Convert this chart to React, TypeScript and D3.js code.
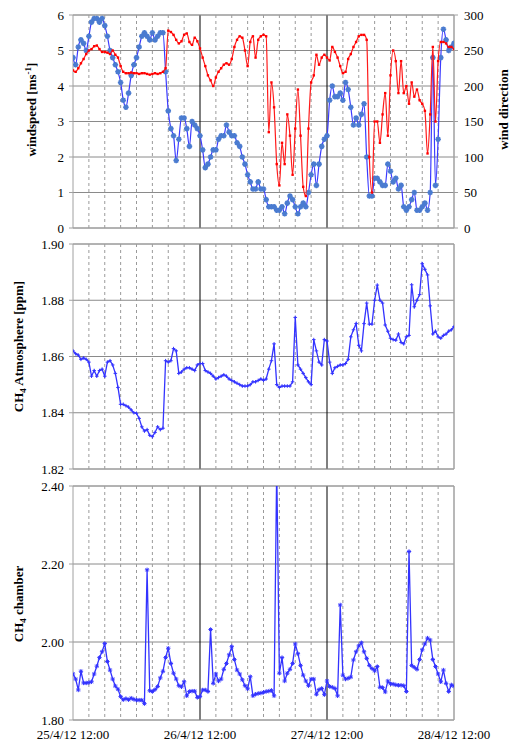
import React from 'react';
import * as d3 from 'd3';

// ---------- DATA (values sampled every 0.5 h from 25/4/12 12:00) ----------
const STEP_HOURS = 0.5;
const dateLabels = ['25/4/12 12:00', '26/4/12 12:00', '27/4/12 12:00', '28/4/12 12:00'];
const dateLabelHours = [0, 24, 48, 72];

const windSpeed = [
  4.8, 4.6, 5.1, 5.3, 5.2, 5.0, 5.4, 5.8, 5.9, 5.9,
  5.8, 5.9, 5.7, 5.4, 5.0, 4.8, 4.6, 4.4, 4.1, 3.6,
  3.4, 3.8, 4.3, 4.6, 4.8, 5.1, 5.4, 5.5, 5.4, 5.3,
  5.5, 5.3, 5.4, 5.5, 5.5, 4.4, 3.3, 2.8, 2.6, 1.9,
  2.5, 3.1, 3.1, 2.8, 2.3, 3.0, 2.9, 2.8, 2.6, 2.2,
  1.7, 1.8, 2.0, 2.2, 2.2, 2.5, 2.6, 2.6, 2.9, 2.7,
  2.6, 2.6, 2.4, 2.3, 2.0, 1.8, 1.5, 1.3, 1.1, 1.1,
  1.3, 1.1, 1.1, 0.8, 0.6, 0.6, 0.6, 0.5, 0.5, 0.6,
  0.4, 0.7, 0.9, 0.8, 0.6, 0.4, 0.6, 0.7, 0.6, 1.0,
  1.5, 1.8, 1.2, 1.8, 2.3, 2.5, 2.6, 3.6, 4.0, 3.7,
  3.7, 3.8, 3.6, 4.1, 3.9, 3.4, 2.9, 3.1, 2.9, 3.2,
  3.5, 2.0, 0.9, 0.9, 1.4, 1.4, 1.3, 1.2, 1.2, 1.8,
  1.6, 1.3, 1.4, 1.1, 1.2, 0.6, 0.5, 0.6, 0.8, 1.0,
  0.5, 0.5, 0.6, 0.7, 0.5, 1.0, 4.8, 1.2, 2.5, 4.8,
  5.6, 5.3, 5.0, 5.1, 5.2,
];

const windDirection = [
  222, 220, 225, 232, 238, 245, 250, 252, 256, 257,
  252, 248, 248, 247, 245, 250, 244, 240, 228, 220,
  218, 218, 219, 218, 218, 217, 218, 218, 217, 216,
  217, 218, 217, 218, 220, 225, 278, 276, 272, 265,
  260, 263, 272, 274, 262, 258, 268, 263, 253, 240,
  228, 215, 208, 200, 212, 220, 225, 230, 232, 230,
  238, 255, 265, 270, 268, 250, 228, 262, 270, 240,
  265, 270, 272, 270, 135, 205, 170, 90, 60, 120,
  90, 160, 130, 75, 140, 195, 130, 58, 45, 140,
  205, 215, 244, 230, 240, 244, 240, 236, 255, 248,
  240, 228, 218, 220, 238, 245, 255, 262, 270, 272,
  272, 265, 100, 50, 150, 150, 120, 160, 190, 130,
  215, 250, 235, 190, 235, 190, 200, 175, 205, 185,
  195, 180, 175, 165, 105, 160, 255, 150, 235, 262,
  262, 260, 255, 255, 252,
];

const ch4Atmosphere = [
  1.862, 1.861, 1.8605, 1.859, 1.8595, 1.859, 1.858, 1.853, 1.855, 1.853,
  1.855, 1.8555, 1.853, 1.858, 1.8585, 1.857, 1.854, 1.849, 1.843, 1.843,
  1.8425, 1.842, 1.841, 1.84, 1.8398, 1.838, 1.835, 1.8335, 1.834, 1.832,
  1.8315, 1.833, 1.835, 1.834, 1.8345, 1.8585, 1.858, 1.8585, 1.8628, 1.862,
  1.854, 1.8545, 1.8555, 1.856, 1.856, 1.8555, 1.855, 1.857, 1.8575, 1.8575,
  1.855, 1.8545, 1.854, 1.853, 1.852, 1.8525, 1.853, 1.8535, 1.853, 1.852,
  1.8515, 1.851, 1.8505, 1.85, 1.8495, 1.8495, 1.8495, 1.85, 1.851, 1.851,
  1.8515, 1.852, 1.8515, 1.852, 1.8555, 1.8585, 1.8645, 1.85, 1.849, 1.8495,
  1.8495, 1.8495, 1.8495, 1.851, 1.8739, 1.857, 1.8555, 1.854, 1.8525, 1.851,
  1.85, 1.866, 1.862, 1.858, 1.857, 1.866, 1.8655, 1.858, 1.854, 1.856,
  1.8565, 1.857, 1.857, 1.8575, 1.859, 1.867, 1.8695, 1.8717, 1.864, 1.862,
  1.8717, 1.879, 1.8715, 1.8715, 1.88, 1.8854, 1.88, 1.879, 1.8712, 1.869,
  1.8665, 1.866, 1.8658, 1.868, 1.865, 1.8645, 1.867, 1.8675, 1.8855, 1.8777,
  1.88, 1.882, 1.893, 1.891, 1.889, 1.878, 1.868, 1.869, 1.867, 1.8665,
  1.8675, 1.868, 1.869, 1.8695, 1.8706,
];

const ch4Chamber = [
  1.918, 1.905, 1.877, 1.925, 1.895, 1.895, 1.896, 1.898, 1.918, 1.938,
  1.96, 1.975, 1.996, 1.95, 1.928, 1.905, 1.887, 1.879, 1.86, 1.852,
  1.855, 1.852, 1.856, 1.853, 1.851, 1.851, 1.851, 1.842, 2.185, 1.875,
  1.873, 1.878, 1.886, 1.908, 1.925, 1.96, 1.984, 1.945, 1.92, 1.905,
  1.888, 1.885, 1.898, 1.862, 1.873, 1.874, 1.874, 1.858, 1.86, 1.877,
  1.877, 1.873, 2.032, 1.894, 1.918, 1.9, 1.905, 1.93, 1.945, 1.967,
  1.988, 1.955, 1.928, 1.918, 1.903, 1.888, 1.88, 1.911, 1.862, 1.866,
  1.868, 1.869, 1.871, 1.873, 1.874, 1.876, 1.862, 2.45, 1.92, 1.96,
  1.9, 1.92, 1.93, 1.945, 1.995, 1.97, 1.94, 1.915, 1.9, 1.888,
  1.905, 1.905, 1.866, 1.878, 1.881, 1.865, 1.9, 1.886, 1.884, 1.881,
  1.862, 2.095, 1.915, 1.905, 1.907, 1.91, 1.954, 1.975, 1.99, 1.998,
  1.975, 1.958, 1.94, 1.932, 1.926, 1.937, 1.884, 1.883, 1.872, 1.9,
  1.893, 1.892, 1.89, 1.889, 1.889, 1.888, 1.873, 2.232, 1.94, 1.935,
  1.93, 1.955, 1.98, 1.995, 2.01, 2.005, 1.955, 1.937, 1.918, 1.898,
  1.928, 1.894, 1.873, 1.89, 1.887,
];

const windSpeedTicks = [0, 1, 2, 3, 4, 5, 6];
const windDirTicks = [0, 50, 100, 150, 200, 250, 300];
const atmTicks = [1.82, 1.84, 1.86, 1.88, 1.9];
const chamberTicks = [1.8, 2.0, 2.2, 2.4];
const dashedHours = [3, 6, 9, 12, 15, 18, 21, 27, 30, 33, 36, 39, 42, 45, 51, 54, 57, 60, 63, 66, 69];
const dayHours = [24, 48];

// ---------- LAYOUT ----------
const W = 512;
const H = 742;
const LEFT = 73;
const RIGHT = 454;
const FONT = '"Liberation Serif", "Times New Roman", serif';

const x = d3.scaleLinear().domain([0, 72]).range([LEFT, RIGHT]);

function Grid({ y, ticks, top, bottom, id }) {
  return (
    <g>
      {ticks.map((t) => (
        <line key={'h' + t} x1={LEFT} x2={RIGHT} y1={y(t)} y2={y(t)} stroke="#8a8a8a" strokeWidth={1} />
      ))}
      {dashedHours.map((h) => (
        <line key={'d' + h} x1={x(h)} x2={x(h)} y1={top} y2={bottom} stroke="#9a9a9a" strokeWidth={1} strokeDasharray="3,3" />
      ))}
      {dayHours.map((h) => (
        <line key={'s' + h} x1={x(h)} x2={x(h)} y1={top} y2={bottom} stroke="#000" strokeWidth={1} />
      ))}
      <line x1={LEFT} x2={LEFT} y1={top} y2={bottom} stroke="#a0a0a0" strokeWidth={1} />
      <line x1={RIGHT} x2={RIGHT} y1={top} y2={bottom} stroke="#a0a0a0" strokeWidth={1.5} />
      <line x1={LEFT} x2={RIGHT} y1={bottom} y2={bottom} stroke="#a0a0a0" strokeWidth={1} />
      <line x1={LEFT} x2={RIGHT} y1={top} y2={top} stroke="#a0a0a0" strokeWidth={1} />
      {ticks.map((t) => (
        <line key={'tk' + t} x1={LEFT - 4} x2={LEFT} y1={y(t)} y2={y(t)} stroke="#a0a0a0" strokeWidth={1} />
      ))}
      <clipPath id={id}>
        <rect x={LEFT} y={top} width={RIGHT - LEFT} height={bottom - top} />
      </clipPath>
    </g>
  );
}

function LeftLabels({ y, ticks, fmt }) {
  return (
    <g>
      {ticks.map((t) => (
        <text key={t} x={LEFT - 9} y={y(t)} dy="0.35em" textAnchor="end" fontSize={13} fontFamily={FONT} fill="#000">
          {fmt(t)}
        </text>
      ))}
    </g>
  );
}

function asterisk(cx, cy, r) {
  const k = r * 0.7;
  return `M${cx - r},${cy}h${2 * r}M${cx},${cy - r}v${2 * r}M${cx - k},${cy - k}l${2 * k},${2 * k}M${cx - k},${cy + k}l${2 * k},${-2 * k}`;
}
function plus(cx, cy, r) {
  return `M${cx - r},${cy}h${2 * r}M${cx},${cy - r}v${2 * r}`;
}

export default function App() {
  // top panel
  const topY0 = 15, topY1 = 228;
  const yWs = d3.scaleLinear().domain([0, 6]).range([topY1, topY0]);
  const yWd = d3.scaleLinear().domain([0, 300]).range([topY1, topY0]);
  // middle panel
  const midY0 = 244, midY1 = 469;
  const yAtm = d3.scaleLinear().domain([1.82, 1.9]).range([midY1, midY0]);
  // bottom panel
  const botY0 = 486, botY1 = 720;
  const yCh = d3.scaleLinear().domain([1.8, 2.4]).range([botY1, botY0]);

  const tx = (i) => x(i * STEP_HOURS);
  const wsLine = d3.line().x((d, i) => tx(i)).y((d) => yWs(d)).curve(d3.curveMonotoneX);
  const wdLine = d3.line().x((d, i) => tx(i)).y((d) => yWd(d)).curve(d3.curveMonotoneX);
  const atmLine = d3.line().x((d, i) => tx(i)).y((d) => yAtm(d));
  const chLine = d3.line().x((d, i) => tx(i)).y((d) => yCh(d));

  const wsMarkers = windSpeed.map((d, i) => asterisk(tx(i), yWs(d), 2.8)).join('');
  const atmMarkers = ch4Atmosphere.map((d, i) => plus(tx(i), yAtm(d), 1.8)).join('');
  const chMarkers = ch4Chamber.map((d, i) => asterisk(tx(i), yCh(d), 2.2)).join('');

  const titleStyle = { fontFamily: FONT, fontSize: 13, fontWeight: 'bold' };

  return (
    <svg width={W} height={H} style={{ position: 'absolute', left: 0, top: 0, background: '#fff' }}>
      <rect x={0} y={0} width={W} height={H} fill="#fff" />

      {/* ---------- TOP PANEL ---------- */}
      <Grid y={yWs} ticks={windSpeedTicks} top={topY0} bottom={topY1} id="clipTop" />
      {windDirTicks.map((t) => (
        <line key={'rt' + t} x1={RIGHT} x2={RIGHT + 4} y1={yWd(t)} y2={yWd(t)} stroke="#a0a0a0" strokeWidth={1} />
      ))}
      <g clipPath="url(#clipTop)">
        <path d={wsLine(windSpeed)} fill="none" stroke="#3a3aff" strokeWidth={1.2} />
        <path d={wsMarkers} fill="none" stroke="#4a7bd0" strokeWidth={1.6} />
        <path d={wdLine(windDirection)} fill="none" stroke="#ff1a1a" strokeWidth={1.2} />
        {windDirection.map((d, i) => (
          <rect key={i} x={tx(i) - 1.2} y={yWd(d) - 1.2} width={2.4} height={2.4} fill="#ff0000" />
        ))}
      </g>
      <LeftLabels y={yWs} ticks={windSpeedTicks} fmt={(t) => String(t)} />
      {windDirTicks.map((t) => (
        <text key={'rl' + t} x={RIGHT + 10} y={yWd(t)} dy="0.35em" textAnchor="start" fontSize={13} fontFamily={FONT}>
          {t}
        </text>
      ))}
      <text transform={`translate(31,${(topY0 + topY1) / 2 - 12}) rotate(-90)`} textAnchor="middle" dy="0.35em" style={titleStyle}>
        windspeed [ms<tspan dy="-5" fontSize={9}>-1</tspan><tspan dy="5">]</tspan>
      </text>
      <text transform={`translate(503,${(topY0 + topY1) / 2 - 12}) rotate(-90)`} textAnchor="middle" dy="0.35em" style={titleStyle}>
        wind direction
      </text>

      {/* ---------- MIDDLE PANEL ---------- */}
      <Grid y={yAtm} ticks={atmTicks} top={midY0} bottom={midY1} id="clipMid" />
      <g clipPath="url(#clipMid)">
        <path d={atmLine(ch4Atmosphere)} fill="none" stroke="#3333ff" strokeWidth={1.3} />
        <path d={atmMarkers} fill="none" stroke="#3333ff" strokeWidth={1} />
      </g>
      <LeftLabels y={yAtm} ticks={atmTicks} fmt={(t) => t.toFixed(2)} />
      <text transform={`translate(18,${(midY0 + midY1) / 2 - 10}) rotate(-90)`} textAnchor="middle" dy="0.35em" style={titleStyle}>
        CH<tspan dy="3" fontSize={9}>4</tspan><tspan dy="-3"> Atmosphere [ppm]</tspan>
      </text>

      {/* ---------- BOTTOM PANEL ---------- */}
      <Grid y={yCh} ticks={chamberTicks} top={botY0} bottom={botY1} id="clipBot" />
      <g clipPath="url(#clipBot)">
        <path d={chLine(ch4Chamber)} fill="none" stroke="#3333ff" strokeWidth={1.3} />
        <path d={chMarkers} fill="none" stroke="#3333ff" strokeWidth={1} />
      </g>
      <LeftLabels y={yCh} ticks={chamberTicks} fmt={(t) => t.toFixed(2)} />
      <text transform={`translate(18,${(botY0 + botY1) / 2 + 1}) rotate(-90)`} textAnchor="middle" dy="0.35em" style={titleStyle}>
        CH<tspan dy="3" fontSize={9}>4</tspan><tspan dy="-3"> chamber</tspan>
      </text>

      {dateLabels.map((lab, i) => (
        <text key={lab} x={x(dateLabelHours[i])} y={739} textAnchor="middle" fontSize={13} fontFamily={FONT}>
          {lab}
        </text>
      ))}
    </svg>
  );
}
